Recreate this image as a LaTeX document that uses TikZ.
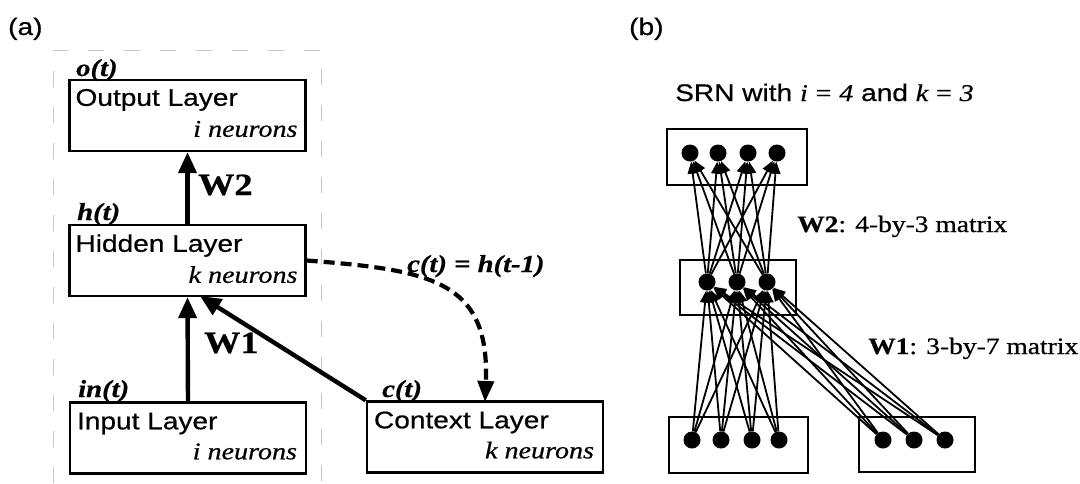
\documentclass[tikz,border=0pt]{standalone}
\usepackage{fontspec}
\setmainfont{Liberation Sans}[FakeStretch=1.17,FakeBold=0.6]
\newfontfamily\tms{Liberation Serif}[FakeStretch=1.17,FakeBold=0.6]
\usetikzlibrary{arrows.meta,calc}

\begin{document}
\begin{tikzpicture}[x=1pt,y=-1pt,
  layerbox/.style={draw, line width=2.4pt, minimum width=236pt, minimum height=71pt, inner sep=0pt},
  boxname/.style={anchor=base west, inner sep=0pt, font=\fontsize{24}{28}\selectfont},
  neurtxt/.style={anchor=base east, inner sep=0pt, font=\tms\itshape\fontsize{24}{28}\selectfont},
  vecname/.style={anchor=base west, inner sep=0pt, font=\tms\bfseries\itshape\fontsize{24.5}{28}\selectfont},
  weightlbl/.style={anchor=base west, inner sep=0pt, font=\tms\bfseries\fontsize{31}{34}\selectfont},
  panellbl/.style={anchor=base west, inner sep=0pt, font=\fontsize{24}{28}\selectfont},
  mattxt/.style={anchor=base west, inner sep=0pt, font=\tms\fontsize{23.5}{28}\selectfont},
  bigarrow/.style={line width=4.4pt, -{Triangle[length=21pt,width=18pt]}},
  dasharrow/.style={line width=4.2pt, dash pattern=on 11pt off 6pt, -{Triangle[length=21pt,width=16pt]}},
  frame/.style={draw=black!22, line width=1pt, dash pattern=on 16pt off 20pt},
  netbox/.style={draw, line width=2.1pt, inner sep=0pt},
  dot/.style={circle, fill=black, minimum size=17pt, inner sep=0pt},
  thinarrow/.style={line width=1.8pt, -{Triangle[length=12pt,width=10pt]}}
]
\useasboundingbox (0,0) rectangle (1080,483);

% ---------------- panel (a) ----------------
\node[panellbl] (pa) at (8,35) {(a)};
\draw[frame] (53,483) -- (53,50) -- (321,50) -- (321,483);

\node[layerbox] (out) at (187.5,115.5) {};
\node[layerbox] (hid) at (187.5,260.5) {};
\node[layerbox] (inp) at (188,438) {};
\node[layerbox] (ctx) at (485,437) {};

\node[boxname] (outname) at ($(out.north west)+(7,27)$) {Output Layer};
\node[neurtxt] (outn) at ($(out.north east)+(-9,58)$) {i neurons};
\node[boxname] (hidname) at ($(hid.north west)+(7,28)$) {Hidden Layer};
\node[neurtxt] (hidn) at ($(hid.north east)+(-9,59)$) {k neurons};
\node[boxname] (inpname) at ($(inp.north west)+(8,28)$) {Input Layer};
\node[neurtxt] (inpn) at ($(inp.north east)+(-10,58)$) {i neurons};
\node[boxname] (ctxname) at ($(ctx.north west)+(8,28)$) {Context Layer};
\node[neurtxt] (ctxn) at ($(ctx.north east)+(-10,58)$) {k neurons};

\node[vecname] (ot) at (76,76) {o(t)};
\node[vecname] (ht) at (77,220) {h(t)};
\node[vecname] (it) at (78,397) {in(t)};
\node[vecname] (ct) at (382,397) {c(t)};

\draw[bigarrow] (hid.north) -- (out.south);
\draw[bigarrow] (inp.north) -- (hid.south);
\coordinate (diagtip) at (200,296);
\draw[bigarrow] (ctx.north west) -- (diagtip);
\node[weightlbl] (w2) at (198,195) {W2};
\node[weightlbl] (w1) at (204,353) {W1};

\coordinate (ctxin) at (485,402);
\draw[dasharrow] (hid.east) .. controls (430,270) and (490,280) .. (ctxin);
\node[vecname] (rec) at (407,272) {c(t) = h(t-1)};

% ---------------- panel (b) ----------------
\node[panellbl] (pb) at (629,35) {(b)};
\node[anchor=base west, inner sep=0pt, font=\fontsize{24}{28}\selectfont] (title) at (675,101)
  {SRN with {\tms\itshape i} {\tms =} {\tms\itshape 4} and {\tms\itshape k} {\tms =} {\tms\itshape 3}};

\node[netbox, minimum width=140pt, minimum height=56pt] (topbox) at (737,157) {};
\node[netbox, minimum width=116pt, minimum height=55pt] (hidbox) at (738,287.5) {};
\node[netbox, minimum width=139pt, minimum height=56pt] (inbox) at (738.5,445) {};
\node[netbox, minimum width=116pt, minimum height=55pt] (ctxbox) at (917,444.5) {};

\node[dot] (o1) at (690,153) {};
\node[dot] (o2) at (718,153) {};
\node[dot] (o3) at (748,153) {};
\node[dot] (o4) at (777,153) {};
\node[dot] (h1) at (707,282) {};
\node[dot] (h2) at (737,282) {};
\node[dot] (h3) at (767,282) {};
\node[dot] (i1) at (692,440) {};
\node[dot] (i2) at (721,440) {};
\node[dot] (i3) at (752,440) {};
\node[dot] (i4) at (779,440) {};
\node[dot] (c1) at (883,440) {};
\node[dot] (c2) at (914,440) {};
\node[dot] (c3) at (945,440) {};

\foreach \a in {i1,i2,i3,i4,c1,c2,c3}
  \foreach \b in {h1,h2,h3}
    \draw[thinarrow] (\a) -- (\b);
\foreach \a in {h1,h2,h3}
  \foreach \b in {o1,o2,o3,o4}
    \draw[thinarrow] (\a) -- (\b);

\node[mattxt] (w2txt) at (797,232) {\textbf{W2}: 4-by-3 matrix};
\node[mattxt] (w1txt) at (868,354) {\textbf{W1}: 3-by-7 matrix};
\end{tikzpicture}
\end{document}
